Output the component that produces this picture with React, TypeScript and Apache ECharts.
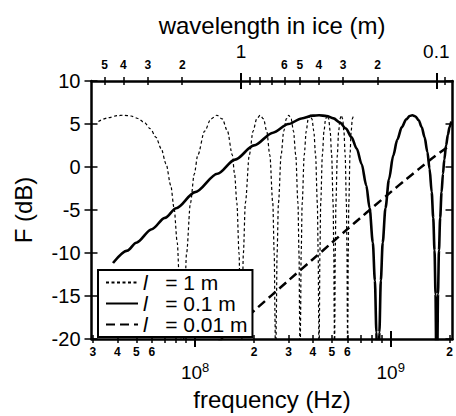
import React, { useEffect, useRef } from 'react';
import * as echarts from 'echarts';

const FONT = '"Liberation Sans", Arial, Helvetica, sans-serif';

// l = 1 m  (frequency in MHz, F in dB)
const L1_MHZ = [
  32, 36, 40, 43, 47, 51, 55, 59, 63, 67, 71, 75, 78, 81, 83, 84.5, 86,
  87.72, 90.3, 94.6, 98.9, 103.2, 111.8, 120.4, 129, 137.6, 146.2, 154.8, 159.1, 163.4, 167.7, 170.28, 172,
  173.72, 176.3, 180.6, 189.2, 197.8, 206.4, 215, 223.6, 232.2, 240.8, 249.4, 253.7, 256.28, 258,
  259.72, 262.3, 266.6, 275.2, 283.8, 292.4, 301, 309.6, 318.2, 326.8, 335.4, 339.7, 342.28, 344,
  345.72, 348.3, 352.6, 361.2, 369.8, 378.4, 387, 395.6, 404.2, 412.8, 421.4, 425.7, 428.28, 430,
  431.72, 434.3, 438.6, 447.2, 455.8, 464.4, 473, 481.6, 490.2, 498.8, 507.4, 511.7, 514.28, 516,
  517.72, 520.3, 524.6, 533.2, 541.8, 550.4, 559, 567.6, 576.2, 584.8, 593.4, 597.7, 600.28, 602,
  603.72, 606.3, 610.6, 619.2, 627.8, 636.4, 645,
];
const L1_DB = [
  5.3, 5.73, 5.97, 6.02, 5.93, 5.64, 5.16, 4.45, 3.46, 2.14, 0.35, -2.14, -4.78, -8.8, -13.21, -19.24, -40,
  -18.02, -10.09, -4.18, -0.84, 1.41, 4.18, 5.59, 6.02, 5.59, 4.18, 1.41, -0.84, -4.18, -10.09, -18.02, -40,
  -18.02, -10.09, -4.18, 1.41, 4.18, 5.59, 6.02, 5.59, 4.18, 1.41, -4.18, -10.09, -18.02, -40,
  -18.02, -10.09, -4.18, 1.41, 4.18, 5.59, 6.02, 5.59, 4.18, 1.41, -4.18, -10.09, -18.02, -40,
  -18.02, -10.09, -4.18, 1.41, 4.18, 5.59, 6.02, 5.59, 4.18, 1.41, -4.18, -10.09, -18.02, -40,
  -18.02, -10.09, -4.18, 1.41, 4.18, 5.59, 6.02, 5.59, 4.18, 1.41, -4.18, -10.09, -18.02, -40,
  -18.02, -10.09, -4.18, 1.41, 4.18, 5.59, 6.02, 5.59, 4.18, 1.41, -4.18, -10.09, -18.02, -40,
  -18.02, -10.09, -4.18, 1.41, 4.18, 5.59, 6.02,
];

// l = 0.1 m
const L01_MHZ = [
  38, 45, 50, 60, 70, 80, 100, 130, 160, 200, 250, 300, 350, 400, 430, 470, 510, 550, 590, 630, 670, 710,
  750, 780, 810, 830, 845, 853, 860, 867, 875, 890, 910, 940, 980, 1030, 1080, 1140, 1200, 1250, 1290,
  1340, 1390, 1440, 1490, 1540, 1580, 1620, 1650, 1675, 1695, 1708, 1720, 1732, 1745, 1765, 1790, 1820,
  1850, 1880, 1920, 1960, 2000, 2040,
];
const L01_DB = [
  -11.16, -9.72, -8.8, -7.23, -5.92, -4.79, -2.92, -0.78, 0.86, 2.51, 3.99, 5.0, 5.64, 5.97, 6.02, 5.93,
  5.65, 5.16, 4.46, 3.47, 2.14, 0.35, -2.14, -4.78, -8.79, -13.21, -19.21, -25.01, -40, -25.82, -19.21,
  -13.2, -8.8, -4.79, -1.42, 1.32, 3.17, 4.64, 5.54, 5.93, 6.02, 5.87, 5.43, 4.64, 3.47, 1.74, -0.19,
  -2.92, -5.92, -9.69, -14.78, -21.15, -40, -21.15, -14.78, -9.7, -5.92, -2.92, -0.78, 0.86, 2.51, 3.74,
  4.64, 5.3,
];

// l = 0.01 m
const L001_MHZ = [100, 130, 150, 200, 300, 400, 500, 600, 700, 800, 1000, 1200, 1400, 1600, 1800, 2000];
const L001_DB = [-22.73, -20.45, -19.21, -16.71, -13.2, -10.72, -8.8, -7.23, -5.92, -4.79, -2.92, -1.42, -0.19, 0.86, 1.74, 2.51];

const SERIES_NAMES = ['l = 1 m', 'l = 0.1 m', 'l = 0.01 m'];

// axes
const F_MIN = 2.95e7;
const F_MAX = 2.07e9;
const WL_MAX = 5.83;
const WL_MIN = 0.0826;
const BOTTOM_MINOR_TICKS = [3e7, 4e7, 5e7, 6e7, 7e7, 8e7, 9e7, 2e8, 3e8, 4e8, 5e8, 6e8, 7e8, 8e8, 9e8, 2e9];
const BOTTOM_MAJOR_TICKS = [1e8, 1e9];
const BOTTOM_DIGIT_LABELS = [3e7, 4e7, 5e7, 6e7, 2e8, 3e8, 4e8, 5e8, 6e8, 2e9];
const TOP_MINOR_TICKS = [5, 4, 3, 2, 0.9, 0.8, 0.7, 0.6, 0.5, 0.4, 0.3, 0.2, 0.09];
const TOP_MAJOR_TICKS = [1, 0.1];
const TOP_DIGIT_LABELS = [5, 4, 3, 2, 0.6, 0.5, 0.4, 0.3, 0.2];
const Y_MIN = -20;
const Y_MAX = 10;
const Y_STEP = 5;

const lead = (v: number) =>
  String(Math.round(v / Math.pow(10, Math.floor(Math.log10(v) + 1e-9))));

const toPairs = (mhz: number[], db: number[]) => mhz.map((m, i) => [m * 1e6, db[i]]);

export default function App() {
  const ref = useRef<HTMLDivElement>(null);
  useEffect(() => {
    document.body.style.margin = '0';
    if (!ref.current) return;
    const chart = echarts.init(ref.current, undefined, { renderer: 'svg' });
    const black = '#000';
    const logX = (extra: any) => ({
      type: 'log',
      min: F_MIN,
      max: F_MAX,
      position: 'bottom',
      splitLine: { show: false },
      ...extra,
    });
    const logTop = (extra: any) => ({
      type: 'log',
      min: WL_MIN,
      max: WL_MAX,
      inverse: true,
      position: 'top',
      splitLine: { show: false },
      ...extra,
    });
    const mainLine = { show: true, onZero: false, lineStyle: { color: black, width: 2.5 } };
    const noLine = { show: false, onZero: false };
    const noLabel = { show: false };
    const digitLabel = (values: number[], margin: number) => ({
      customValues: values,
      formatter: (v: number) => lead(v),
      fontSize: 12,
      fontWeight: 'bold',
      fontFamily: FONT,
      color: black,
      margin,
    });
    const option: any = {
      animation: false,
      backgroundColor: '#fff',
      grid: { left: 91.5, right: 3.5, top: 81, bottom: 68.5, containLabel: false },
      xAxis: [
        logX({
          axisLine: mainLine,
          axisTick: { customValues: BOTTOM_MINOR_TICKS, inside: false, length: 4, lineStyle: { color: black, width: 1.5 } },
          axisLabel: digitLabel(BOTTOM_DIGIT_LABELS, 7),
        }),
        logX({
          axisLine: noLine,
          axisTick: { customValues: BOTTOM_MINOR_TICKS, inside: true, length: 4, lineStyle: { color: black, width: 1.5 } },
          axisLabel: noLabel,
        }),
        logX({
          axisLine: noLine,
          axisTick: { customValues: BOTTOM_MAJOR_TICKS, inside: false, length: 8, lineStyle: { color: black, width: 2 } },
          axisLabel: {
            customValues: BOTTOM_MAJOR_TICKS,
            formatter: (v: number) => '{a|10}{b|' + Math.round(Math.log10(v)) + '}',
            margin: 22,
            rich: {
              a: { fontSize: 19, lineHeight: 22, fontFamily: FONT, color: black },
              b: { fontSize: 13, lineHeight: 10, verticalAlign: 'top', fontFamily: FONT, color: black },
            },
          },
          name: 'frequency (Hz)',
          nameLocation: 'middle',
          nameGap: 48,
          nameTextStyle: { fontSize: 24, fontFamily: FONT, color: black },
        }),
        logX({
          axisLine: noLine,
          axisTick: { customValues: BOTTOM_MAJOR_TICKS, inside: true, length: 8, lineStyle: { color: black, width: 2 } },
          axisLabel: noLabel,
        }),
        logTop({
          axisLine: mainLine,
          axisTick: { customValues: TOP_MINOR_TICKS, inside: false, length: 4, lineStyle: { color: black, width: 1.5 } },
          axisLabel: digitLabel(TOP_DIGIT_LABELS, 10),
        }),
        logTop({
          axisLine: noLine,
          axisTick: { customValues: TOP_MINOR_TICKS, inside: true, length: 4, lineStyle: { color: black, width: 1.5 } },
          axisLabel: noLabel,
        }),
        logTop({
          axisLine: noLine,
          axisTick: { customValues: TOP_MAJOR_TICKS, inside: false, length: 8, lineStyle: { color: black, width: 2 } },
          axisLabel: {
            customValues: TOP_MAJOR_TICKS,
            formatter: (v: number) => String(v),
            fontSize: 19,
            fontFamily: FONT,
            color: black,
            margin: 20,
          },
          name: 'wavelength in ice (m)',
          nameLocation: 'middle',
          nameGap: 41,
          nameTextStyle: { fontSize: 24, fontFamily: FONT, color: black },
        }),
        logTop({
          axisLine: noLine,
          axisTick: { customValues: TOP_MAJOR_TICKS, inside: true, length: 8, lineStyle: { color: black, width: 2 } },
          axisLabel: noLabel,
        }),
      ],
      yAxis: [
        {
          type: 'value',
          position: 'left',
          min: Y_MIN,
          max: Y_MAX,
          interval: Y_STEP,
          splitLine: { show: false },
          axisLine: mainLine,
          axisTick: { show: true, inside: false, length: 7, lineStyle: { color: black, width: 1.5 } },
          axisLabel: { fontSize: 20, fontFamily: FONT, color: black, margin: 11 },
          name: 'F (dB)',
          nameLocation: 'middle',
          nameGap: 56,
          nameRotate: 90,
          nameTextStyle: { fontSize: 24, fontFamily: FONT, color: black },
        },
        {
          type: 'value',
          position: 'left',
          min: Y_MIN,
          max: Y_MAX,
          interval: Y_STEP,
          splitLine: { show: false },
          axisLine: noLine,
          axisTick: { show: true, inside: true, length: 6, lineStyle: { color: black, width: 1.5 } },
          axisLabel: { show: false },
        },
        {
          type: 'value',
          position: 'right',
          min: Y_MIN,
          max: Y_MAX,
          interval: Y_STEP,
          splitLine: { show: false },
          axisLine: mainLine,
          axisTick: { show: true, inside: true, length: 7, lineStyle: { color: black, width: 1.5 } },
          axisLabel: { show: false },
        },
      ],
      legend: {
        orient: 'vertical',
        left: 98,
        top: 270,
        itemWidth: 32,
        itemHeight: 10,
        itemGap: 0,
        padding: [2, 5, 2, 7],
        backgroundColor: '#fff',
        borderColor: black,
        borderWidth: 2,
        data: SERIES_NAMES,
        itemStyle: { color: 'transparent', borderColor: 'transparent', borderWidth: 0, opacity: 0 },
        formatter: (name: string) => '{i|l}{t|   ' + name.slice(1).trim() + '}',
        textStyle: {
          color: black,
          fontFamily: FONT,
          rich: {
            i: { fontStyle: 'italic', fontSize: 21, lineHeight: 22, fontFamily: FONT, color: black },
            t: { fontSize: 21, lineHeight: 22, fontFamily: FONT, color: black },
          },
        },
      },
      series: [
        {
          name: SERIES_NAMES[0],
          type: 'line',
          data: toPairs(L1_MHZ, L1_DB),
          showSymbol: false,
          symbol: 'none',
          smooth: 0.3,
          smoothMonotone: 'x',
          clip: true,
          lineStyle: { color: black, width: 1.2, type: [3, 2.5] },
          itemStyle: { color: black },
        },
        {
          name: SERIES_NAMES[1],
          type: 'line',
          data: toPairs(L01_MHZ, L01_DB),
          showSymbol: false,
          symbol: 'none',
          smooth: 0.3,
          smoothMonotone: 'x',
          clip: true,
          lineStyle: { color: black, width: 2.6, type: 'solid' },
          itemStyle: { color: black },
        },
        {
          name: SERIES_NAMES[2],
          type: 'line',
          data: toPairs(L001_MHZ, L001_DB),
          showSymbol: false,
          symbol: 'none',
          smooth: 0.3,
          clip: true,
          lineStyle: { color: black, width: 2.5, type: [9, 5] },
          itemStyle: { color: black },
        },
      ],
    };
    chart.setOption(option);
    return () => chart.dispose();
  }, []);
  return <div ref={ref} style={{ width: 456, height: 416 }} />;
}
